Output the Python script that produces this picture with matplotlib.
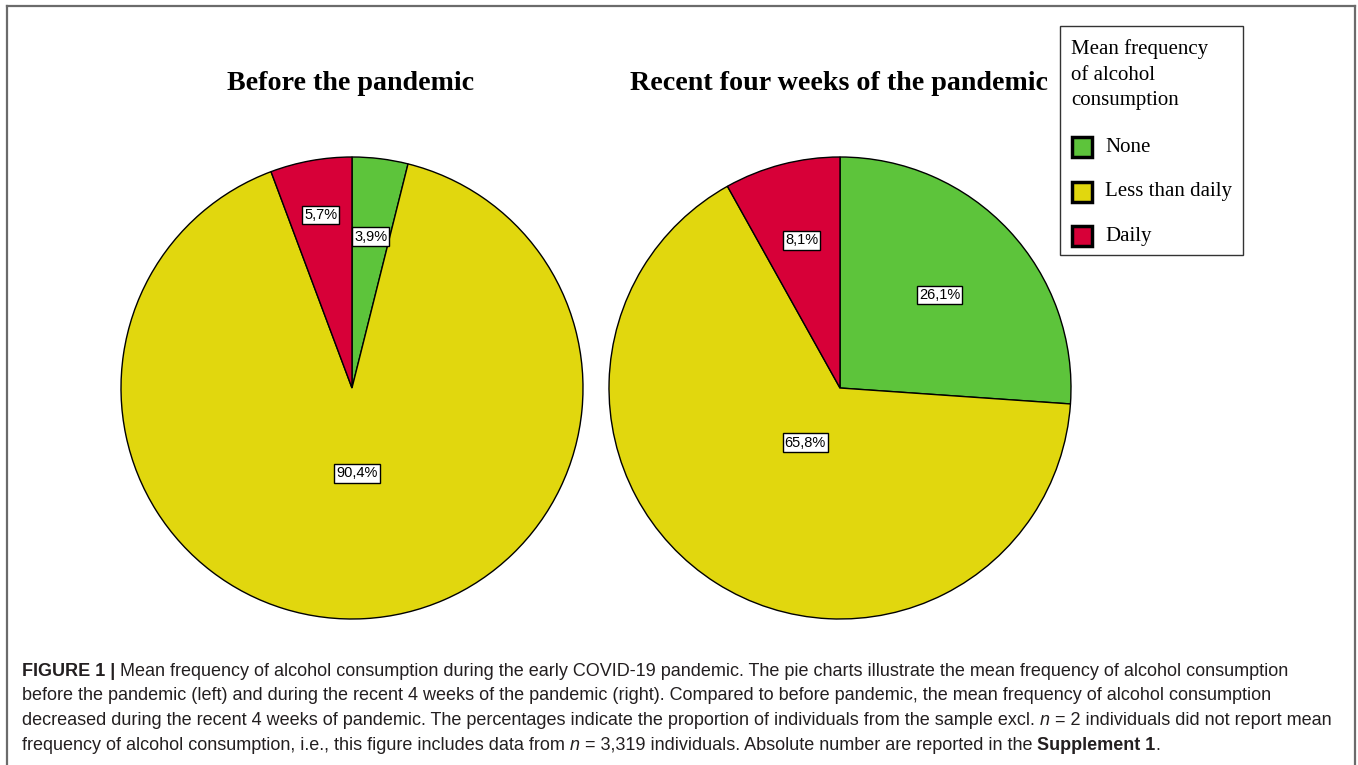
import matplotlib
matplotlib.use("Agg")
import numpy as np
import matplotlib.pyplot as plt
from matplotlib.patches import Rectangle
from matplotlib.lines import Line2D

# ---------------- data ----------------
categories = ["None", "Less than daily", "Daily"]
before_values = [3.9, 90.4, 5.7]
recent_values = [26.1, 65.8, 8.1]
before_labels = ["3,9%", "90,4%", "5,7%"]
recent_labels = ["26,1%", "65,8%", "8,1%"]
titles = ["Before the pandemic", "Recent four weeks of the pandemic"]
legend_title_lines = ["Mean frequency", "of alcohol", "consumption"]
colors = ["#5DC43B", "#E1D70E", "#D70038"]

# label radial positions (fraction of radius) -- layout only
before_label_r = [0.66, 0.37, 0.76]
recent_label_r = [0.59, 0.28, 0.66]

W, H = 1358, 765
fig = plt.figure(figsize=(W / 100, H / 100), dpi=100)
fig.patch.set_facecolor("white")


def px_axes(cx, cy, r):
    return fig.add_axes([(cx - r) / W, (H - cy - r) / H, 2 * r / W, 2 * r / H])


serif = "Liberation Serif"
sans = "Liberation Sans"

for (cx, vals, labs, lr, title) in [
    (352, before_values, before_labels, before_label_r, titles[0]),
    (840, recent_values, recent_labels, recent_label_r, titles[1]),
]:
    ax = px_axes(cx, 388, 231)
    wedges, _ = ax.pie(vals, colors=colors, startangle=90, counterclock=False,
                       radius=1.0,
                       wedgeprops=dict(edgecolor="black", linewidth=1.0))
    ax.set_xlim(-1.0, 1.0)
    ax.set_ylim(-1.0, 1.0)
    ax.set_aspect("equal")
    ax.axis("off")
    for w, lab, rf in zip(wedges, labs, lr):
        ang = np.deg2rad((w.theta1 + w.theta2) / 2)
        ax.text(rf * np.cos(ang), rf * np.sin(ang), lab, ha="center", va="center",
                fontsize=10.5, family=sans, color="black",
                bbox=dict(boxstyle="square,pad=0.15", fc="white", ec="black", lw=1.0))
    fig.text(cx / W - 0.001, 1 - 83 / H, title, ha="center", va="center",
             fontsize=20.2, fontweight="bold", family=serif, color="black")

# ---------------- legend (manual) ----------------
fig.patches.append(Rectangle((1060 / W, 1 - 255 / H), (1243 - 1060) / W, (255 - 26) / H,
                             transform=fig.transFigure, fc="white", ec="#333333", lw=1.0))
for i, line in enumerate(legend_title_lines):
    fig.text(1071 / W, 1 - (49 + 26 * i) / H, line, ha="left", va="center", fontsize=15,
             family=serif, color="black")
for i, (c, name) in enumerate(zip(colors, categories)):
    yc = 147 + i * 44.5
    fig.patches.append(Rectangle((1072 / W, 1 - (yc + 10) / H), 20 / W, 20 / H,
                                 transform=fig.transFigure, fc=c, ec="black", lw=2.5))
    fig.text(1105 / W, 1 - yc / H, name, ha="left", va="center", fontsize=15,
             family=serif, color="black")

# ---------------- outer frame ----------------
fc = "#6b6b6b"
fig.add_artist(Line2D([7 / W, 7 / W], [0, 1 - 6 / H], transform=fig.transFigure, color=fc, lw=1.6))
fig.add_artist(Line2D([7 / W, 1355 / W], [1 - 6 / H, 1 - 6 / H], transform=fig.transFigure, color=fc, lw=1.6))
fig.add_artist(Line2D([1355 / W, 1355 / W], [0, 1 - 6 / H], transform=fig.transFigure, color=fc, lw=1.6))

# ---------------- caption ----------------
caption_lines = [
    [("FIGURE 1 | ", "bold", "normal"),
     ("Mean frequency of alcohol consumption during the early COVID-19 pandemic. The pie charts illustrate the mean frequency of alcohol consumption", "normal", "normal")],
    [("before the pandemic (left) and during the recent 4 weeks of the pandemic (right). Compared to before pandemic, the mean frequency of alcohol consumption", "normal", "normal")],
    [("decreased during the recent 4 weeks of pandemic. The percentages indicate the proportion of individuals from the sample excl. ", "normal", "normal"),
     ("n", "normal", "italic"),
     (" = 2 individuals did not report mean", "normal", "normal")],
    [("frequency of alcohol consumption, i.e., this figure includes data from ", "normal", "normal"),
     ("n", "normal", "italic"),
     (" = 3,319 individuals. Absolute number are reported in the ", "normal", "normal"),
     ("Supplement 1", "bold", "normal"),
     (".", "normal", "normal")],
]
baselines = [676, 700, 725, 750]
fig.canvas.draw()
renderer = fig.canvas.get_renderer()
cap_size = 12.95
cap_color = "#231f20"
for segs, yb in zip(caption_lines, baselines):
    x = 22
    for s, wgt, sty in segs:
        t = fig.text(x / W, 1 - yb / H, s, ha="left", va="baseline", fontsize=cap_size,
                     fontweight=wgt, fontstyle=sty, family=sans, color=cap_color)
        bb = t.get_window_extent(renderer)
        x += bb.width

fig.savefig("out.png", dpi=100, facecolor="white")
